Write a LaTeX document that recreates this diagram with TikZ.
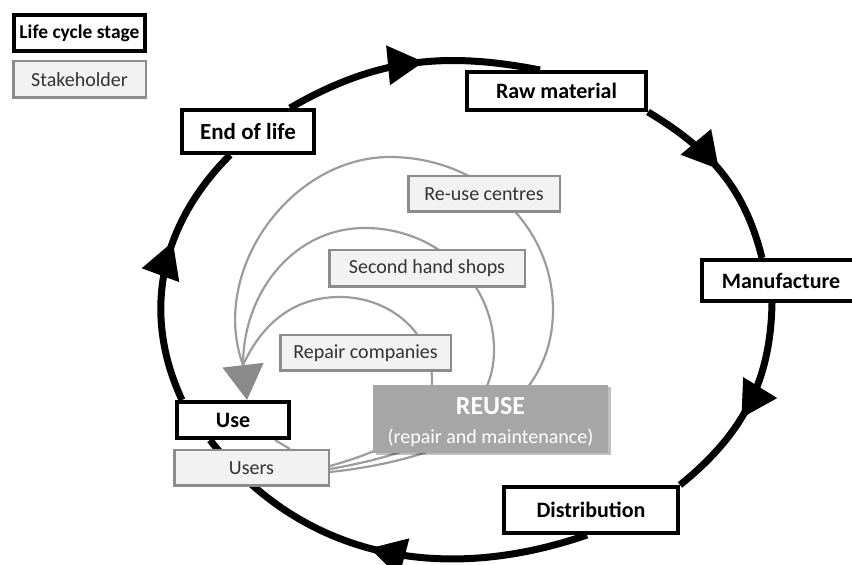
\documentclass[tikz,border=0pt]{standalone}
\usepackage{fontspec}
\setmainfont{Carlito}
\usetikzlibrary{arrows.meta,decorations.markings,shadows}
\pgfdeclarelayer{background}
\pgfsetlayers{background,main}
\definecolor{shfill}{HTML}{F2F2F2}
\definecolor{shdraw}{HTML}{8C8C8C}
\definecolor{shtext}{HTML}{333333}
\definecolor{loopc}{HTML}{9C9C9C}
\definecolor{arrowgray}{HTML}{8A8A8A}
\definecolor{reusefill}{HTML}{A6A6A6}
\begin{document}
\begin{tikzpicture}[x=1pt,y=1pt,
  stage/.style={draw=black,line width=4pt,fill=white,inner sep=0pt,font=\fontsize{22}{26}\selectfont\bfseries},
  stakeh/.style={draw=shdraw,line width=2.5pt,fill=shfill,inner sep=0pt,text=shtext,font=\fontsize{20}{24}\selectfont},
  lcarrow/.style={line width=7pt,draw=black,decoration={markings,mark=at position #1 with {\arrow{Triangle[length=36pt,width=38pt]}}},postaction={decorate}},
  reuseloop/.style={draw=loopc,line width=2.2pt},
]
\useasboundingbox (0,0) rectangle (852,565);
\clip (0,0) rectangle (852,565);

% legend
\node[stage,minimum width=131pt,minimum height=36pt,font=\fontsize{19.5}{23}\selectfont\bfseries] (leg1) at (79.5,532) {Life cycle stage};
\node[stakeh,minimum width=132.5pt,minimum height=36.5pt] (leg2) at (79.5,485.5) {Stakeholder};

% life cycle stages
\node[stage,minimum width=132pt,minimum height=43pt,font=\fontsize{23}{27}\selectfont\bfseries] (eol) at (248,433.5) {End of life};
\node[stage,minimum width=179pt,minimum height=38pt] (raw) at (556.5,474) {Raw material};
\node[stage,minimum width=158pt,minimum height=41pt] (manu) at (781,284.5) {Manufacture};
\node[stage,minimum width=174pt,minimum height=46pt] (dist) at (591,55) {Distribution};
\node[stage,minimum width=112pt,minimum height=36pt] (use) at (233,145) {Use};

% stakeholders
\node[stakeh,minimum width=154.5pt,minimum height=35.5pt] (users) at (251.5,97) {Users};
\node[stakeh,minimum width=151.5pt,minimum height=35.5pt] (rc) at (484,371) {Re-use centres};
\node[stakeh,minimum width=195.5pt,minimum height=36.5pt] (sh) at (427,296.5) {Second hand shops};
\node[stakeh,minimum width=170.5pt,minimum height=35.5pt] (rep) at (365.5,212) {Repair companies};

% reuse box
\node[fill=reusefill,minimum width=235pt,minimum height=68pt,inner sep=0pt,
      drop shadow={shadow xshift=2.5pt,shadow yshift=-2.5pt,fill=black,opacity=0.25}] (reuse) at (490.5,146) {};
\node[text=white,align=center,inner sep=0pt,font=\fontsize{20}{29}\selectfont] (reusetext) at ([yshift=-3pt]reuse.center)
  {{\fontsize{26}{29}\selectfont\bfseries REUSE}\\(repair and maintenance)};

% helper coordinates
\coordinate (merge) at (243,200);
\coordinate (in1) at (432,185);
\coordinate (in2) at (340,268);
\coordinate (mid1) at (494,215);
\coordinate (mid2) at (365,337);
\coordinate (out1) at (553,255);
\coordinate (out2) at (390,408);

\begin{pgfonlayer}{background}
% life cycle
\draw[lcarrow=0.55] ([xshift=42pt]eol.north) to[out=30,in=169] ([xshift=-16.5pt]raw.north);
\draw[lcarrow=0.48] (raw.south east) to[out=-31,in=104] ([xshift=-19pt]manu.north);
\draw[lcarrow=0.57] ([xshift=-9pt]manu.south) to[out=-91,in=39] (dist.north east);
\draw[lcarrow=0.53] ([xshift=-4pt]dist.south) to[out=199,in=-52] ([xshift=-23pt]use.south);
\draw[lcarrow=0.61] ([xshift=-51pt]use.north) to[out=115,in=225] ([xshift=-18pt]eol.south);

% reuse loops
\draw[reuseloop] ([yshift=2pt]users.east) to[out=16,in=-90] (in1) to[out=90,in=0] (in2) to[out=180,in=65] (merge);
\draw[reuseloop] ([yshift=-1pt]users.east) to[out=10,in=-90] (mid1) to[out=90,in=0] (mid2) to[out=180,in=90] (merge);
\draw[reuseloop] ([yshift=-4pt]users.east) to[out=6,in=-90] (out1) to[out=90,in=0] (out2) to[out=180,in=110] (merge);
\draw[reuseloop,draw=arrowgray,-{Triangle[length=35pt,width=41pt]}] (merge) -- ([xshift=14pt]use.north);
\draw[reuseloop] ([xshift=-16pt]use.south east) -- ([xshift=-40pt]users.north east);
\end{pgfonlayer}
\end{tikzpicture}
\end{document}
